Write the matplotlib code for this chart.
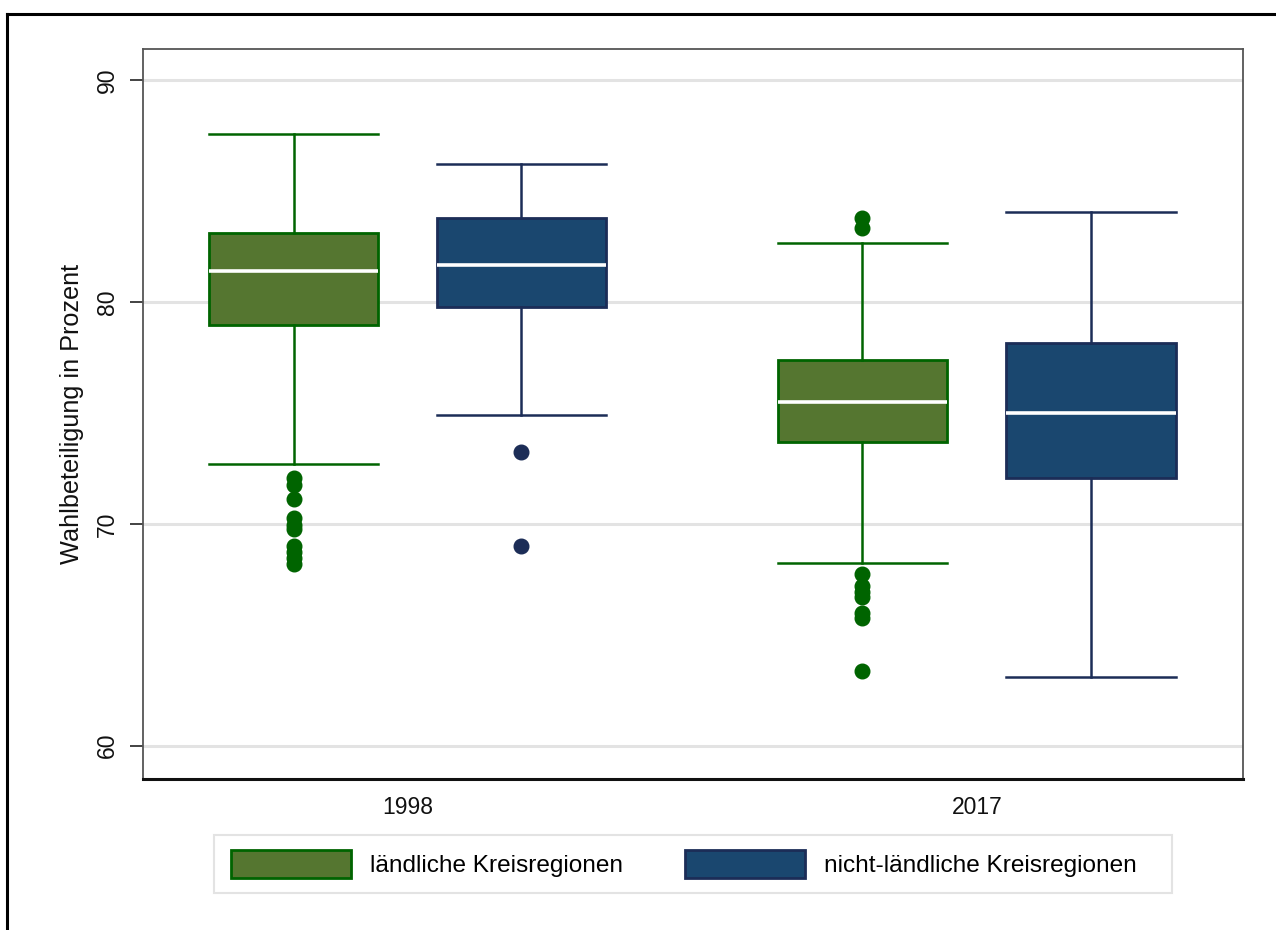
import matplotlib
matplotlib.use("Agg")
import matplotlib.pyplot as plt
from matplotlib.patches import Patch, Rectangle
from matplotlib.lines import Line2D

plt.rcParams['font.family'] = ['Liberation Sans', 'DejaVu Sans']

# ---- data ----
years = ["1998", "2017"]
groups = ["ländliche Kreisregionen", "nicht-ländliche Kreisregionen"]

# order: 1998 rural, 1998 urban, 2017 rural, 2017 urban
whis_hi = [87.55, 86.2, 82.65, 84.05]
q3 = [83.1, 83.8, 77.4, 78.15]
med = [81.4, 81.65, 75.5, 75.0]
q1 = [78.95, 79.75, 73.7, 72.05]
whis_lo = [72.7, 74.9, 68.25, 63.1]
fliers = [
    [72.07, 71.75, 71.1, 70.27, 69.95, 69.75, 69.0, 68.75, 68.45, 68.2],
    [73.25, 69.0],
    [83.8, 83.35, 67.72, 67.2, 66.95, 66.7, 66.0, 65.75, 63.35],
    [],
]

face_cols = ["#557630", "#1a476f", "#557630", "#1a476f"]
edge_cols = ["#006400", "#1c2d57", "#006400", "#1c2d57"]
flier_cols = ["#006400", "#1c2d57", "#006400", "#1c2d57"]

positions = [13.7, 34.4, 65.4, 86.2]
year_pos = [24.05, 75.8]
box_w = 15.4

W, H = 1276, 930
fig = plt.figure(figsize=(W / 100, H / 100), dpi=100)
ax = fig.add_axes([143 / W, 1 - 779 / H, 1100 / W, 730 / H])

ax.set_ylim(58.5, 91.4)
ax.set_xlim(0, 100)
ax.set_yticks([60, 70, 80, 90])
ax.yaxis.grid(True, color="#e3e3e3", linewidth=2.2)
ax.set_axisbelow(True)

for i in range(4):
    st = [dict(med=med[i], q1=q1[i], q3=q3[i], whislo=whis_lo[i],
               whishi=whis_hi[i], fliers=fliers[i], label="")]
    ax.bxp(st, positions=[positions[i]], widths=box_w, patch_artist=True,
           showfliers=True,
           boxprops=dict(facecolor=face_cols[i], edgecolor=edge_cols[i], linewidth=2.0),
           medianprops=dict(color="white", linewidth=2.6),
           whiskerprops=dict(color=edge_cols[i], linewidth=1.8),
           capprops=dict(color=edge_cols[i], linewidth=1.8),
           capwidths=box_w,
           flierprops=dict(marker="o", markerfacecolor=flier_cols[i],
                           markeredgecolor=flier_cols[i], markersize=10.5,
                           linestyle="none"),
           manage_ticks=False)

ax.set_xticks(year_pos)
ax.set_xticklabels(years, fontsize=16.5, color="#111111")
ax.tick_params(axis="x", length=0, pad=12)
ax.tick_params(axis="y", length=9.5, width=1.2, color="#222222", pad=8,
               labelsize=16.5, labelcolor="#111111")
for lab in ax.get_yticklabels():
    lab.set_rotation(90)
    lab.set_va("center")

ax.set_ylabel("Wahlbeteiligung in Prozent", fontsize=18.2, color="#111111")
ax.yaxis.set_label_coords(-0.054, 0.5)

for s in ["left", "top", "right"]:
    ax.spines[s].set_color("#555555")
    ax.spines[s].set_linewidth(1.3)
ax.spines["bottom"].set_color("#111111")
ax.spines["bottom"].set_linewidth(2.2)

# legend
handles = [Patch(facecolor=face_cols[0], edgecolor=edge_cols[0], linewidth=2.0),
           Patch(facecolor=face_cols[1], edgecolor=edge_cols[1], linewidth=2.0)]
fig.legend(handles, groups, loc="center", ncol=2, frameon=False,
           bbox_to_anchor=(684 / W, 1 - 864 / H), fontsize=17.6,
           handlelength=4.9, handleheight=1.36, handletextpad=0.78,
           columnspacing=2.55)
fig.add_artist(Rectangle((214 / W, 1 - 893 / H), 958 / W, 58 / H,
                         transform=fig.transFigure, fill=False,
                         edgecolor="#e3e3e3", linewidth=1.5))

# outer frame (top and left edges visible)
fig.add_artist(Line2D([7 / W, 1.0], [1 - 14 / H, 1 - 14 / H],
                      transform=fig.transFigure, color="black", linewidth=2.2))
fig.add_artist(Line2D([7 / W, 7 / W], [0, 1 - 14 / H],
                      transform=fig.transFigure, color="black", linewidth=2.2))

fig.savefig("out.png", dpi=100, facecolor="white")
